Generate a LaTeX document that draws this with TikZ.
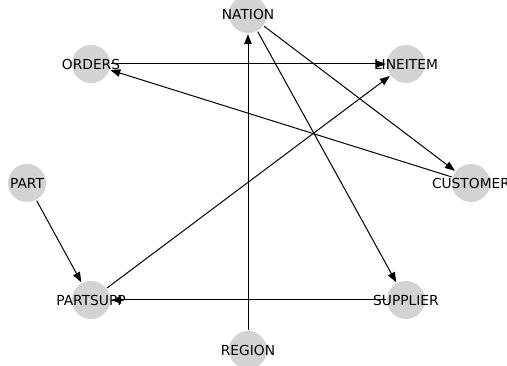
\documentclass[tikz,border=0pt]{standalone}
\usepackage{fontspec}
\setmainfont{DejaVu Sans}
\usetikzlibrary{arrows.meta}
\definecolor{nodegray}{HTML}{D3D3D3}
\tikzset{
  vtx/.style={circle, fill=nodegray, minimum size=38pt, inner sep=0pt},
  lbl/.style={inner sep=0pt, font=\fontsize{13.8}{16}\selectfont, text=black},
  edge/.style={black, line width=1pt, -{Triangle[length=10pt, width=7.5pt]}, shorten >=1pt, shorten <=1pt}
}
\begin{document}
\begin{tikzpicture}[x=1pt, y=-1pt]
\useasboundingbox (0,0) rectangle (507,366);
\clip (0,0) rectangle (507,366);
\node[vtx] (nat) at (248,14) {};
\node[vtx] (ord) at (91,64) {};
\node[vtx] (lin) at (406,64) {};
\node[vtx] (par) at (27,183) {};
\node[vtx] (cus) at (471,183) {};
\node[vtx] (ps) at (91,300) {};
\node[vtx] (sup) at (406,300) {};
\node[vtx] (reg) at (248,350) {};
\draw[edge] (ord) -- (lin);
\draw[edge] (cus) -- (ord);
\draw[edge] (nat) -- (cus);
\draw[edge] (nat) -- (sup);
\draw[edge] (reg) -- (nat);
\draw[edge] (par) -- (ps);
\draw[edge] (ps) -- (lin);
\draw[edge] (sup) -- (ps);
\node[lbl] (natl) at (nat) {NATION};
\node[lbl] (ordl) at (ord) {ORDERS};
\node[lbl] (linl) at (lin) {LINEITEM};
\node[lbl] (parl) at (par) {PART};
\node[lbl] (cusl) at (cus) {CUSTOMER};
\node[lbl] (psl) at (ps) {PARTSUPP};
\node[lbl] (supl) at (sup) {SUPPLIER};
\node[lbl] (regl) at (reg) {REGION};
\end{tikzpicture}
\end{document}
